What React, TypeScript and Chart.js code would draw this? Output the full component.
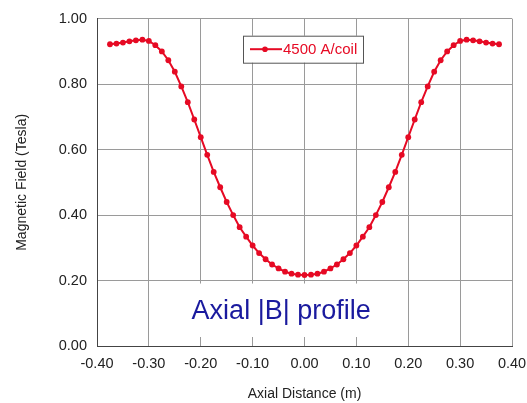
import React, { useEffect, useRef } from "react";
import { Chart, registerables } from "chart.js";

Chart.register(...registerables);

// Axial distance (m)
const axialDistance: number[] = [
  -0.375, -0.3625, -0.35, -0.3375, -0.325, -0.3125, -0.3, -0.2875, -0.275, -0.2625,
  -0.25, -0.2375, -0.225, -0.2125, -0.2, -0.1875, -0.175, -0.1625, -0.15, -0.1375,
  -0.125, -0.1125, -0.1, -0.0875, -0.075, -0.0625, -0.05, -0.0375, -0.025, -0.0125,
  0,
  0.0125, 0.025, 0.0375, 0.05, 0.0625, 0.075, 0.0875, 0.1, 0.1125, 0.125,
  0.1375, 0.15, 0.1625, 0.175, 0.1875, 0.2, 0.2125, 0.225, 0.2375, 0.25,
  0.2625, 0.275, 0.2875, 0.3, 0.3125, 0.325, 0.3375, 0.35, 0.3625, 0.375,
];

// Magnetic field (Tesla), 4500 A/coil
const fieldTesla: number[] = [
  0.922, 0.924, 0.927, 0.931, 0.934, 0.936, 0.932, 0.919, 0.9, 0.873,
  0.838, 0.793, 0.745, 0.692, 0.638, 0.584, 0.532, 0.485, 0.44, 0.4,
  0.363, 0.334, 0.307, 0.284, 0.265, 0.249, 0.237, 0.227, 0.221, 0.218,
  0.217,
  0.218, 0.221, 0.227, 0.237, 0.249, 0.265, 0.284, 0.307, 0.334, 0.363,
  0.4, 0.44, 0.485, 0.532, 0.584, 0.638, 0.692, 0.745, 0.793, 0.838,
  0.873, 0.9, 0.919, 0.932, 0.936, 0.934, 0.931, 0.927, 0.924, 0.922,
];

const seriesLabel = "4500 A/coil";
const xTitle = "Axial Distance (m)";
const yTitle = "Magnetic Field (Tesla)";
const annotationText = "Axial |B| profile";

const RED = "#e60a24";
const FONT = "'Liberation Sans', Arial, Helvetica, sans-serif";

const fmt = (v: number) => {
  const r = Math.abs(v) < 1e-9 ? 0 : v;
  return r.toFixed(2);
};

export default function App() {
  const canvasRef = useRef<HTMLCanvasElement | null>(null);

  useEffect(() => {
    if (!canvasRef.current) return;

    const overlayPlugin = {
      id: "overlay",
      beforeDatasetsDraw(chart: any) {
        const { ctx, chartArea, scales } = chart;
        const xs = scales.x;
        const ys = scales.y;
        // white label box covering the grid
        const left = xs.getPixelForValue(-0.3) + 3;
        const right = xs.getPixelForValue(0.2) - 3;
        const top = ys.getPixelForValue(0.2) + 3;
        const bottom = chartArea.bottom - 9;
        ctx.save();
        ctx.fillStyle = "#ffffff";
        ctx.fillRect(left, top, right - left, bottom - top);
        ctx.fillStyle = "#1a1a9e";
        ctx.font = `27px ${FONT}`;
        ctx.textAlign = "center";
        ctx.textBaseline = "middle";
        ctx.fillText(annotationText, xs.getPixelForValue(-0.045), ys.getPixelForValue(0.105));
        ctx.restore();
      },
      afterDatasetsDraw(chart: any) {
        const { ctx, chartArea } = chart;
        // legend box
        const bx = chartArea.left + 146;
        const by = chartArea.top + 17;
        const bw = 120;
        const bh = 27;
        ctx.save();
        ctx.fillStyle = "#ffffff";
        ctx.fillRect(bx, by, bw, bh);
        ctx.strokeStyle = "#555555";
        ctx.lineWidth = 1;
        ctx.strokeRect(bx + 0.5, by + 0.5, bw, bh);
        const cy = by + bh / 2;
        ctx.strokeStyle = RED;
        ctx.lineWidth = 2;
        ctx.beginPath();
        ctx.moveTo(bx + 7, cy);
        ctx.lineTo(bx + 39, cy);
        ctx.stroke();
        ctx.fillStyle = RED;
        ctx.beginPath();
        ctx.arc(bx + 22, cy, 2.8, 0, Math.PI * 2);
        ctx.fill();
        ctx.font = `15px ${FONT}`;
        ctx.textAlign = "left";
        ctx.textBaseline = "middle";
        ctx.fillText(seriesLabel, bx + 40, cy + 1);
        ctx.restore();
      },
    };

    const chart = new Chart(canvasRef.current, {
      type: "line",
      data: {
        datasets: [
          {
            label: seriesLabel,
            data: axialDistance.map((x, i) => ({ x, y: fieldTesla[i] })),
            borderColor: RED,
            backgroundColor: RED,
            borderWidth: 2,
            pointRadius: 2.9,
            pointHoverRadius: 2.9,
            pointBorderWidth: 0,
            pointBackgroundColor: RED,
            tension: 0,
            fill: false,
          },
        ],
      },
      options: {
        animation: false,
        responsive: true,
        maintainAspectRatio: false,
        layout: { padding: { top: 17, right: 0, left: 0, bottom: 0 } },
        plugins: {
          legend: { display: false },
          tooltip: { enabled: false },
        },
        scales: {
          x: {
            type: "linear",
            min: -0.4,
            max: 0.4,
            afterFit: (s: any) => {
              s.height = 57;
              s.paddingRight = 15;
              s.paddingLeft = 0;
            },
            ticks: {
              stepSize: 0.1,
              callback: (v: any) => fmt(Number(v)),
              font: { family: FONT, size: 14.5 },
              color: "#222222",
              padding: 9,
              maxRotation: 0,
              autoSkip: false,
            },
            grid: { color: "#9a9a9a", lineWidth: 1, drawTicks: false },
            border: { color: "#444444", width: 1 },
            title: {
              display: true,
              text: xTitle,
              font: { family: FONT, size: 14 },
              color: "#222222",
              padding: { top: 0, bottom: 0 },
            },
          },
          y: {
            type: "linear",
            min: 0,
            max: 1,
            afterFit: (s: any) => {
              s.width = 97;
            },
            ticks: {
              stepSize: 0.2,
              callback: (v: any) => fmt(Number(v)),
              font: { family: FONT, size: 14.5 },
              color: "#222222",
              padding: 10,
            },
            grid: { color: "#9a9a9a", lineWidth: 1, drawTicks: false },
            border: { color: "#444444", width: 1 },
            title: {
              display: true,
              text: yTitle,
              font: { family: FONT, size: 14 },
              color: "#222222",
              padding: { top: 14, bottom: 0 },
            },
          },
        },
      },
      plugins: [overlayPlugin],
    });

    return () => chart.destroy();
  }, []);

  return (
    <div
      style={{
        position: "fixed",
        top: 0,
        left: 0,
        width: 527,
        height: 403,
        background: "#ffffff",
      }}
    >
      <canvas ref={canvasRef} />
    </div>
  );
}
